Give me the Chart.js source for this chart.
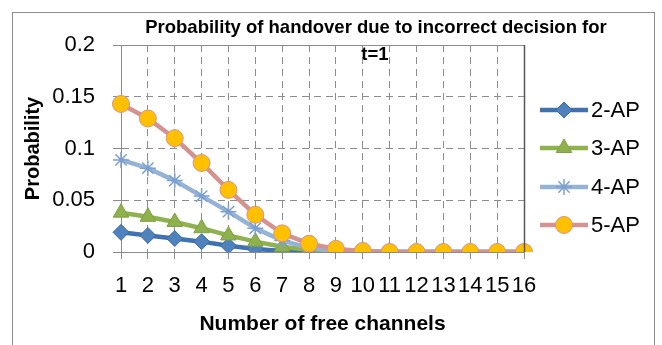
<!DOCTYPE html>
<html>
<head>
<meta charset="utf-8">
<script src="https://cdn.jsdelivr.net/npm/chart.js@4/dist/chart.umd.min.js"></script>
<style>
  body { margin: 0; background: #fff; }
  #wrap { width: 662px; height: 345px; }
</style>
</head>
<body>
<div id="wrap"><canvas id="chart" width="662" height="345"></canvas></div>
<script>
// data
const channels = ["1", "2", "3", "4", "5", "6", "7", "8", "9", "10", "11", "12", "13", "14", "15", "16"];
const ap2 = [0.019, 0.016, 0.013, 0.010, 0.006, 0.003, 0.001, 0, 0, 0, 0, 0, 0, 0, 0, 0];
const ap3 = [0.038, 0.034, 0.029, 0.023, 0.016, 0.010, 0.005, 0.002, 0, 0, 0, 0, 0, 0, 0, 0];
const ap4 = [0.089, 0.081, 0.069, 0.054, 0.039, 0.023, 0.011, 0.004, 0.001, 0, 0, 0, 0, 0, 0, 0];
const ap5 = [0.143, 0.129, 0.110, 0.086, 0.060, 0.036, 0.018, 0.008, 0.003, 0.001, 0, 0, 0, 0, 0, 0];
const yTicks = [0, 0.05, 0.1, 0.15, 0.2];

const FONT = "'Liberation Sans', Arial, sans-serif";

function series(label, data, line, style, fill, edge, radius, order) {
  return {
    label: label,
    data: data,
    borderColor: line,
    borderWidth: 4.5,
    tension: 0,
    pointStyle: style,
    pointRadius: radius,
    pointHoverRadius: radius,
    pointBackgroundColor: fill,
    pointBorderColor: edge,
    pointBorderWidth: style === "star" ? 1.5 : 1,
    order: order
  };
}

function drawMarker(ctx, ds, x, y) {
  ctx.save();
  ctx.fillStyle = ds.pointBackgroundColor;
  ctx.strokeStyle = ds.pointBorderColor;
  ctx.lineWidth = ds.pointBorderWidth;
  Chart.helpers.drawPoint(ctx, {
    pointStyle: ds.pointStyle,
    radius: ds.pointRadius,
    borderWidth: ds.pointBorderWidth,
    rotation: 0
  }, x, y);
  ctx.restore();
}

// title, legend and frame drawn by hand
const decorations = {
  id: "decorations",
  afterDraw(chart) {
    const ctx = chart.ctx;
    const area = chart.chartArea;
    ctx.save();

    // outer frame
    ctx.strokeStyle = "#8c8c8c";
    ctx.lineWidth = 1;
    ctx.strokeRect(12.5, 12.5, 642, 345);

    // plot frame: top and right
    ctx.beginPath();
    ctx.moveTo(area.left, Math.round(area.top) + 0.5);
    ctx.lineTo(area.right, Math.round(area.top) + 0.5);
    ctx.stroke();
    ctx.beginPath();
    ctx.moveTo(Math.round(area.right) + 0.5, area.top);
    ctx.lineTo(Math.round(area.right) + 0.5, area.bottom);
    ctx.strokeStyle = "#555";
    ctx.lineWidth = 1.5;
    ctx.stroke();

    // title
    ctx.fillStyle = "#000";
    ctx.font = "bold 18.5px " + FONT;
    ctx.textAlign = "center";
    ctx.textBaseline = "middle";
    ctx.fillText("Probability of handover due to incorrect decision for", 376, 28);
    ctx.fillText("t=1", 375, 55);

    // legend
    const rows = [110, 148, 187, 225];
    chart.data.datasets.forEach((ds, i) => {
      const y = rows[i];
      ctx.beginPath();
      ctx.moveTo(540, y);
      ctx.lineTo(588, y);
      ctx.strokeStyle = ds.borderColor;
      ctx.lineWidth = ds.borderWidth;
      ctx.stroke();
      drawMarker(ctx, ds, 564, y);
      ctx.fillStyle = "#000";
      ctx.font = "22px " + FONT;
      ctx.textAlign = "left";
      ctx.fillText(ds.label, 591, y + 1);
    });
    ctx.restore();
  }
};

new Chart(document.getElementById("chart"), {
  type: "line",
  data: {
    labels: channels,
    datasets: [
      series("2-AP", ap2, "#3f72ae", "rectRot", "#4f81bd", "#3a6ba5", 8, 4),
      series("3-AP", ap3, "#8fb24f", "triangle", "#8fb24f", "#7ea043", 9, 3),
      series("4-AP", ap4, "#95b3d7", "star", "#95b3d7", "#7d9fd0", 8, 2),
      series("5-AP", ap5, "#d49391", "circle", "#ffc000", "#d49391", 8.5, 1)
    ]
  },
  options: {
    responsive: false,
    animation: false,
    layout: { padding: { top: 45, right: 138, left: 0, bottom: 0 } },
    plugins: {
      legend: { display: false },
      title: { display: false },
      tooltip: { enabled: false }
    },
    scales: {
      x: {
        offset: false,
        grid: { color: "#8c8c8c", tickLength: 7, tickColor: "#8c8c8c" },
        border: { color: "#8c8c8c", dash: [7, 5] },
        ticks: {
          autoSkip: false, maxRotation: 0, minRotation: 0, padding: 14,
          color: "#000", font: { family: FONT, size: 22 }
        },
        title: {
          display: true, text: "Number of free channels", color: "#000",
          font: { family: FONT, size: 21, weight: "bold" }, padding: { top: 0, bottom: 8 }
        },
        afterFit(scale) { scale.height = 93; }
      },
      y: {
        min: 0,
        max: 0.2,
        afterBuildTicks(scale) { scale.ticks = yTicks.map(v => ({ value: v })); },
        grid: { color: "#8c8c8c", tickLength: 8, tickColor: "#8c8c8c" },
        border: { color: "#8c8c8c", dash: [7, 5] },
        ticks: {
          padding: 18, color: "#000", font: { family: FONT, size: 22 },
          callback: v => String(+v.toFixed(2))
        },
        title: {
          display: true, text: "Probability", color: "#000",
          font: { family: FONT, size: 20, weight: "bold" }, padding: { top: 21, bottom: 0 }
        },
        afterFit(scale) { scale.width = 121; }
      }
    }
  },
  plugins: [decorations]
});
</script>
</body>
</html>
